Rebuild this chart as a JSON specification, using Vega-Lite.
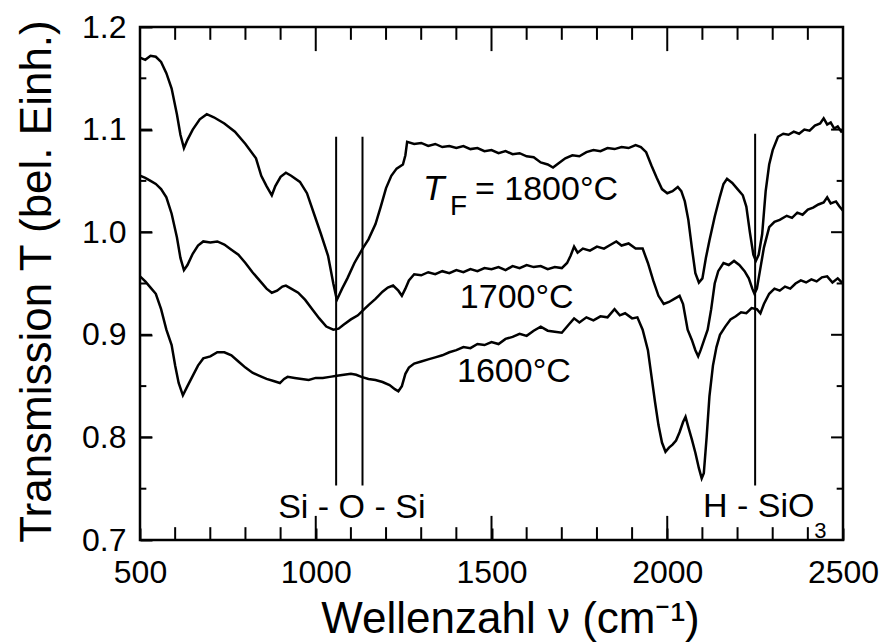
{
  "$schema": "https://vega.github.io/schema/vega-lite/v6.json",
  "width": 703,
  "height": 513,
  "autosize": {"type": "none"},
  "padding": {"left": 140, "top": 27, "right": 41, "bottom": 104},
  "background": "white",
  "config": {
    "font": "Liberation Sans",
    "view": {"stroke": "black", "strokeWidth": 2.5},
    "axis": {"grid": false, "domain": false, "labelColor": "black", "titleColor": "black", "tickColor": "black", "tickWidth": 2, "labelFlush": false, "labelOverlap": false, "labelBound": false, "titleFontWeight": "normal"}
  },
  "datasets": {
    "spectra": [
      {"s":"1800","x":500,"y":1.170},{"s":"1800","x":515,"y":1.168},{"s":"1800","x":530,"y":1.172},{"s":"1800","x":545,"y":1.171},{"s":"1800","x":560,"y":1.166},{"s":"1800","x":575,"y":1.155},{"s":"1800","x":590,"y":1.140},{"s":"1800","x":605,"y":1.115},{"s":"1800","x":615,"y":1.095},{"s":"1800","x":625,"y":1.082},{"s":"1800","x":635,"y":1.090},{"s":"1800","x":650,"y":1.100},{"s":"1800","x":670,"y":1.110},{"s":"1800","x":690,"y":1.115},{"s":"1800","x":710,"y":1.112},{"s":"1800","x":740,"y":1.106},{"s":"1800","x":770,"y":1.098},{"s":"1800","x":800,"y":1.086},{"s":"1800","x":830,"y":1.072},{"s":"1800","x":845,"y":1.055},{"s":"1800","x":860,"y":1.045},{"s":"1800","x":875,"y":1.036},{"s":"1800","x":885,"y":1.045},{"s":"1800","x":900,"y":1.054},{"s":"1800","x":915,"y":1.058},{"s":"1800","x":930,"y":1.055},{"s":"1800","x":955,"y":1.049},{"s":"1800","x":975,"y":1.038},{"s":"1800","x":995,"y":1.018},{"s":"1800","x":1015,"y":0.998},{"s":"1800","x":1035,"y":0.977},{"s":"1800","x":1050,"y":0.950},{"s":"1800","x":1060,"y":0.934},{"s":"1800","x":1075,"y":0.945},{"s":"1800","x":1090,"y":0.955},{"s":"1800","x":1110,"y":0.970},{"s":"1800","x":1135,"y":0.985},{"s":"1800","x":1150,"y":0.993},{"s":"1800","x":1170,"y":1.008},{"s":"1800","x":1185,"y":1.025},{"s":"1800","x":1200,"y":1.043},{"s":"1800","x":1215,"y":1.055},{"s":"1800","x":1230,"y":1.062},{"s":"1800","x":1248,"y":1.066},{"s":"1800","x":1255,"y":1.075},{"s":"1800","x":1260,"y":1.088},{"s":"1800","x":1280,"y":1.086},{"s":"1800","x":1300,"y":1.087},{"s":"1800","x":1320,"y":1.084},{"s":"1800","x":1340,"y":1.086},{"s":"1800","x":1360,"y":1.083},{"s":"1800","x":1380,"y":1.084},{"s":"1800","x":1400,"y":1.082},{"s":"1800","x":1420,"y":1.084},{"s":"1800","x":1440,"y":1.081},{"s":"1800","x":1460,"y":1.082},{"s":"1800","x":1480,"y":1.079},{"s":"1800","x":1500,"y":1.080},{"s":"1800","x":1520,"y":1.077},{"s":"1800","x":1540,"y":1.079},{"s":"1800","x":1560,"y":1.076},{"s":"1800","x":1580,"y":1.077},{"s":"1800","x":1600,"y":1.074},{"s":"1800","x":1620,"y":1.073},{"s":"1800","x":1640,"y":1.068},{"s":"1800","x":1660,"y":1.066},{"s":"1800","x":1675,"y":1.063},{"s":"1800","x":1690,"y":1.067},{"s":"1800","x":1710,"y":1.072},{"s":"1800","x":1730,"y":1.075},{"s":"1800","x":1750,"y":1.074},{"s":"1800","x":1770,"y":1.078},{"s":"1800","x":1790,"y":1.080},{"s":"1800","x":1810,"y":1.079},{"s":"1800","x":1830,"y":1.082},{"s":"1800","x":1850,"y":1.081},{"s":"1800","x":1870,"y":1.083},{"s":"1800","x":1890,"y":1.082},{"s":"1800","x":1910,"y":1.085},{"s":"1800","x":1925,"y":1.083},{"s":"1800","x":1940,"y":1.078},{"s":"1800","x":1955,"y":1.065},{"s":"1800","x":1970,"y":1.053},{"s":"1800","x":1985,"y":1.042},{"s":"1800","x":2000,"y":1.038},{"s":"1800","x":2015,"y":1.040},{"s":"1800","x":2030,"y":1.044},{"s":"1800","x":2040,"y":1.040},{"s":"1800","x":2050,"y":1.030},{"s":"1800","x":2060,"y":1.012},{"s":"1800","x":2070,"y":0.985},{"s":"1800","x":2080,"y":0.960},{"s":"1800","x":2090,"y":0.951},{"s":"1800","x":2100,"y":0.955},{"s":"1800","x":2110,"y":0.975},{"s":"1800","x":2120,"y":0.992},{"s":"1800","x":2135,"y":1.015},{"s":"1800","x":2150,"y":1.035},{"s":"1800","x":2160,"y":1.047},{"s":"1800","x":2170,"y":1.052},{"s":"1800","x":2185,"y":1.048},{"s":"1800","x":2200,"y":1.042},{"s":"1800","x":2215,"y":1.036},{"s":"1800","x":2225,"y":1.025},{"s":"1800","x":2235,"y":1.000},{"s":"1800","x":2245,"y":0.978},{"s":"1800","x":2252,"y":0.972},{"s":"1800","x":2260,"y":0.978},{"s":"1800","x":2270,"y":0.998},{"s":"1800","x":2280,"y":1.040},{"s":"1800","x":2290,"y":1.066},{"s":"1800","x":2300,"y":1.080},{"s":"1800","x":2315,"y":1.093},{"s":"1800","x":2330,"y":1.096},{"s":"1800","x":2345,"y":1.095},{"s":"1800","x":2360,"y":1.098},{"s":"1800","x":2375,"y":1.096},{"s":"1800","x":2390,"y":1.100},{"s":"1800","x":2405,"y":1.099},{"s":"1800","x":2420,"y":1.104},{"s":"1800","x":2435,"y":1.106},{"s":"1800","x":2445,"y":1.111},{"s":"1800","x":2455,"y":1.105},{"s":"1800","x":2465,"y":1.107},{"s":"1800","x":2475,"y":1.101},{"s":"1800","x":2485,"y":1.103},{"s":"1800","x":2495,"y":1.098},{"s":"1800","x":2500,"y":1.099},

      {"s":"1700","x":500,"y":1.055},{"s":"1700","x":515,"y":1.053},{"s":"1700","x":530,"y":1.050},{"s":"1700","x":545,"y":1.047},{"s":"1700","x":560,"y":1.042},{"s":"1700","x":575,"y":1.034},{"s":"1700","x":590,"y":1.018},{"s":"1700","x":605,"y":0.995},{"s":"1700","x":615,"y":0.975},{"s":"1700","x":625,"y":0.963},{"s":"1700","x":635,"y":0.968},{"s":"1700","x":650,"y":0.979},{"s":"1700","x":665,"y":0.987},{"s":"1700","x":680,"y":0.991},{"s":"1700","x":700,"y":0.990},{"s":"1700","x":720,"y":0.991},{"s":"1700","x":740,"y":0.988},{"s":"1700","x":760,"y":0.983},{"s":"1700","x":780,"y":0.978},{"s":"1700","x":800,"y":0.970},{"s":"1700","x":820,"y":0.961},{"s":"1700","x":840,"y":0.953},{"s":"1700","x":860,"y":0.945},{"s":"1700","x":875,"y":0.941},{"s":"1700","x":890,"y":0.943},{"s":"1700","x":905,"y":0.947},{"s":"1700","x":915,"y":0.948},{"s":"1700","x":930,"y":0.945},{"s":"1700","x":950,"y":0.941},{"s":"1700","x":970,"y":0.934},{"s":"1700","x":990,"y":0.925},{"s":"1700","x":1010,"y":0.916},{"s":"1700","x":1030,"y":0.908},{"s":"1700","x":1050,"y":0.905},{"s":"1700","x":1065,"y":0.906},{"s":"1700","x":1080,"y":0.910},{"s":"1700","x":1100,"y":0.915},{"s":"1700","x":1120,"y":0.919},{"s":"1700","x":1135,"y":0.924},{"s":"1700","x":1150,"y":0.929},{"s":"1700","x":1170,"y":0.935},{"s":"1700","x":1190,"y":0.942},{"s":"1700","x":1205,"y":0.946},{"s":"1700","x":1220,"y":0.948},{"s":"1700","x":1235,"y":0.943},{"s":"1700","x":1245,"y":0.938},{"s":"1700","x":1255,"y":0.945},{"s":"1700","x":1265,"y":0.953},{"s":"1700","x":1280,"y":0.959},{"s":"1700","x":1300,"y":0.958},{"s":"1700","x":1320,"y":0.961},{"s":"1700","x":1340,"y":0.959},{"s":"1700","x":1360,"y":0.962},{"s":"1700","x":1380,"y":0.960},{"s":"1700","x":1400,"y":0.963},{"s":"1700","x":1420,"y":0.961},{"s":"1700","x":1440,"y":0.964},{"s":"1700","x":1460,"y":0.962},{"s":"1700","x":1480,"y":0.965},{"s":"1700","x":1500,"y":0.964},{"s":"1700","x":1520,"y":0.966},{"s":"1700","x":1540,"y":0.963},{"s":"1700","x":1560,"y":0.967},{"s":"1700","x":1580,"y":0.965},{"s":"1700","x":1600,"y":0.968},{"s":"1700","x":1620,"y":0.966},{"s":"1700","x":1640,"y":0.967},{"s":"1700","x":1660,"y":0.964},{"s":"1700","x":1680,"y":0.966},{"s":"1700","x":1700,"y":0.965},{"s":"1700","x":1715,"y":0.970},{"s":"1700","x":1725,"y":0.977},{"s":"1700","x":1735,"y":0.986},{"s":"1700","x":1745,"y":0.980},{"s":"1700","x":1760,"y":0.984},{"s":"1700","x":1780,"y":0.982},{"s":"1700","x":1800,"y":0.986},{"s":"1700","x":1820,"y":0.984},{"s":"1700","x":1840,"y":0.988},{"s":"1700","x":1855,"y":0.991},{"s":"1700","x":1870,"y":0.987},{"s":"1700","x":1890,"y":0.989},{"s":"1700","x":1910,"y":0.984},{"s":"1700","x":1930,"y":0.984},{"s":"1700","x":1945,"y":0.970},{"s":"1700","x":1960,"y":0.953},{"s":"1700","x":1975,"y":0.938},{"s":"1700","x":1990,"y":0.930},{"s":"1700","x":2005,"y":0.932},{"s":"1700","x":2020,"y":0.935},{"s":"1700","x":2035,"y":0.938},{"s":"1700","x":2045,"y":0.930},{"s":"1700","x":2058,"y":0.905},{"s":"1700","x":2070,"y":0.895},{"s":"1700","x":2080,"y":0.885},{"s":"1700","x":2088,"y":0.879},{"s":"1700","x":2095,"y":0.885},{"s":"1700","x":2105,"y":0.895},{"s":"1700","x":2115,"y":0.905},{"s":"1700","x":2125,"y":0.925},{"s":"1700","x":2135,"y":0.950},{"s":"1700","x":2145,"y":0.962},{"s":"1700","x":2160,"y":0.970},{"s":"1700","x":2175,"y":0.968},{"s":"1700","x":2190,"y":0.972},{"s":"1700","x":2205,"y":0.968},{"s":"1700","x":2220,"y":0.962},{"s":"1700","x":2232,"y":0.955},{"s":"1700","x":2242,"y":0.945},{"s":"1700","x":2248,"y":0.940},{"s":"1700","x":2255,"y":0.945},{"s":"1700","x":2265,"y":0.965},{"s":"1700","x":2275,"y":0.985},{"s":"1700","x":2290,"y":1.005},{"s":"1700","x":2305,"y":1.010},{"s":"1700","x":2320,"y":1.012},{"s":"1700","x":2340,"y":1.016},{"s":"1700","x":2355,"y":1.014},{"s":"1700","x":2370,"y":1.019},{"s":"1700","x":2385,"y":1.017},{"s":"1700","x":2400,"y":1.022},{"s":"1700","x":2415,"y":1.024},{"s":"1700","x":2430,"y":1.027},{"s":"1700","x":2445,"y":1.029},{"s":"1700","x":2455,"y":1.034},{"s":"1700","x":2465,"y":1.028},{"s":"1700","x":2480,"y":1.030},{"s":"1700","x":2490,"y":1.025},{"s":"1700","x":2500,"y":1.021},

      {"s":"1600","x":500,"y":0.957},{"s":"1600","x":515,"y":0.952},{"s":"1600","x":530,"y":0.946},{"s":"1600","x":545,"y":0.940},{"s":"1600","x":560,"y":0.925},{"s":"1600","x":575,"y":0.905},{"s":"1600","x":590,"y":0.890},{"s":"1600","x":600,"y":0.870},{"s":"1600","x":610,"y":0.853},{"s":"1600","x":622,"y":0.841},{"s":"1600","x":635,"y":0.850},{"s":"1600","x":650,"y":0.860},{"s":"1600","x":665,"y":0.870},{"s":"1600","x":680,"y":0.877},{"s":"1600","x":700,"y":0.879},{"s":"1600","x":720,"y":0.883},{"s":"1600","x":740,"y":0.883},{"s":"1600","x":760,"y":0.880},{"s":"1600","x":780,"y":0.874},{"s":"1600","x":800,"y":0.868},{"s":"1600","x":820,"y":0.863},{"s":"1600","x":840,"y":0.860},{"s":"1600","x":860,"y":0.857},{"s":"1600","x":880,"y":0.855},{"s":"1600","x":898,"y":0.853},{"s":"1600","x":910,"y":0.857},{"s":"1600","x":920,"y":0.859},{"s":"1600","x":940,"y":0.858},{"s":"1600","x":960,"y":0.857},{"s":"1600","x":980,"y":0.856},{"s":"1600","x":1000,"y":0.858},{"s":"1600","x":1020,"y":0.858},{"s":"1600","x":1040,"y":0.859},{"s":"1600","x":1060,"y":0.860},{"s":"1600","x":1080,"y":0.861},{"s":"1600","x":1100,"y":0.862},{"s":"1600","x":1115,"y":0.861},{"s":"1600","x":1130,"y":0.859},{"s":"1600","x":1150,"y":0.857},{"s":"1600","x":1170,"y":0.856},{"s":"1600","x":1190,"y":0.854},{"s":"1600","x":1210,"y":0.851},{"s":"1600","x":1225,"y":0.847},{"s":"1600","x":1235,"y":0.845},{"s":"1600","x":1245,"y":0.850},{"s":"1600","x":1255,"y":0.862},{"s":"1600","x":1265,"y":0.868},{"s":"1600","x":1280,"y":0.872},{"s":"1600","x":1300,"y":0.874},{"s":"1600","x":1320,"y":0.876},{"s":"1600","x":1340,"y":0.878},{"s":"1600","x":1360,"y":0.880},{"s":"1600","x":1380,"y":0.883},{"s":"1600","x":1400,"y":0.885},{"s":"1600","x":1420,"y":0.888},{"s":"1600","x":1440,"y":0.887},{"s":"1600","x":1460,"y":0.891},{"s":"1600","x":1480,"y":0.890},{"s":"1600","x":1500,"y":0.893},{"s":"1600","x":1520,"y":0.891},{"s":"1600","x":1540,"y":0.896},{"s":"1600","x":1560,"y":0.898},{"s":"1600","x":1580,"y":0.901},{"s":"1600","x":1600,"y":0.899},{"s":"1600","x":1620,"y":0.904},{"s":"1600","x":1640,"y":0.908},{"s":"1600","x":1660,"y":0.904},{"s":"1600","x":1680,"y":0.903},{"s":"1600","x":1700,"y":0.902},{"s":"1600","x":1720,"y":0.910},{"s":"1600","x":1735,"y":0.916},{"s":"1600","x":1750,"y":0.912},{"s":"1600","x":1770,"y":0.917},{"s":"1600","x":1790,"y":0.914},{"s":"1600","x":1810,"y":0.918},{"s":"1600","x":1830,"y":0.917},{"s":"1600","x":1850,"y":0.925},{"s":"1600","x":1865,"y":0.919},{"s":"1600","x":1880,"y":0.921},{"s":"1600","x":1900,"y":0.916},{"s":"1600","x":1915,"y":0.917},{"s":"1600","x":1930,"y":0.905},{"s":"1600","x":1945,"y":0.885},{"s":"1600","x":1955,"y":0.860},{"s":"1600","x":1965,"y":0.835},{"s":"1600","x":1975,"y":0.812},{"s":"1600","x":1985,"y":0.795},{"s":"1600","x":1995,"y":0.786},{"s":"1600","x":2005,"y":0.790},{"s":"1600","x":2015,"y":0.793},{"s":"1600","x":2025,"y":0.797},{"s":"1600","x":2035,"y":0.805},{"s":"1600","x":2045,"y":0.815},{"s":"1600","x":2052,"y":0.820},{"s":"1600","x":2060,"y":0.810},{"s":"1600","x":2070,"y":0.798},{"s":"1600","x":2080,"y":0.785},{"s":"1600","x":2090,"y":0.770},{"s":"1600","x":2098,"y":0.760},{"s":"1600","x":2104,"y":0.765},{"s":"1600","x":2112,"y":0.800},{"s":"1600","x":2120,"y":0.840},{"s":"1600","x":2130,"y":0.870},{"s":"1600","x":2140,"y":0.888},{"s":"1600","x":2150,"y":0.900},{"s":"1600","x":2165,"y":0.908},{"s":"1600","x":2180,"y":0.915},{"s":"1600","x":2195,"y":0.918},{"s":"1600","x":2210,"y":0.922},{"s":"1600","x":2225,"y":0.921},{"s":"1600","x":2240,"y":0.926},{"s":"1600","x":2255,"y":0.925},{"s":"1600","x":2265,"y":0.921},{"s":"1600","x":2275,"y":0.930},{"s":"1600","x":2290,"y":0.940},{"s":"1600","x":2305,"y":0.945},{"s":"1600","x":2320,"y":0.943},{"s":"1600","x":2335,"y":0.947},{"s":"1600","x":2350,"y":0.945},{"s":"1600","x":2365,"y":0.950},{"s":"1600","x":2380,"y":0.953},{"s":"1600","x":2395,"y":0.951},{"s":"1600","x":2410,"y":0.954},{"s":"1600","x":2425,"y":0.952},{"s":"1600","x":2440,"y":0.956},{"s":"1600","x":2455,"y":0.957},{"s":"1600","x":2470,"y":0.951},{"s":"1600","x":2485,"y":0.955},{"s":"1600","x":2500,"y":0.950}
    ],
    "markers": [
      {"x": 1058, "y1": 0.753, "y2": 1.093},
      {"x": 1133, "y1": 0.753, "y2": 1.093},
      {"x": 2250, "y1": 0.753, "y2": 1.096}
    ],
    "xMajor": [{"v": 500}, {"v": 1000}, {"v": 1500}, {"v": 2000}, {"v": 2500}],
    "xMinor": [{"v": 600}, {"v": 700}, {"v": 800}, {"v": 900}, {"v": 1100}, {"v": 1200}, {"v": 1300}, {"v": 1400}, {"v": 1600}, {"v": 1700}, {"v": 1800}, {"v": 1900}, {"v": 2100}, {"v": 2200}, {"v": 2300}, {"v": 2400}],
    "yMajor": [{"v": 0.7}, {"v": 0.8}, {"v": 0.9}, {"v": 1.0}, {"v": 1.1}, {"v": 1.2}],
    "yMinor": [{"v": 0.75}, {"v": 0.85}, {"v": 0.95}, {"v": 1.05}, {"v": 1.15}],
    "mainText": [
      {"x": 1453, "y": 1.0314, "t": "= 1800°C"},
      {"x": 1410, "y": 0.9261, "t": "1700°C"},
      {"x": 1402, "y": 0.854, "t": "1600°C"},
      {"x": 893, "y": 0.7214, "t": "Si - O - Si"},
      {"x": 2102, "y": 0.7224, "t": "H - SiO"}
    ],
    "italicText": [{"x": 1305, "y": 1.0314, "t": "T"}],
    "subF": [{"x": 1382, "y": 1.0168, "t": "F"}],
    "sub3": [{"x": 2418, "y": 0.7015, "t": "3"}]
  },
  "layer": [
    {
      "data": {"name": "spectra"},
      "mark": {"type": "line", "color": "black", "strokeWidth": 2.5, "clip": true},
      "encoding": {
        "x": {"field": "x", "type": "quantitative", "scale": {"domain": [500, 2500], "nice": false, "zero": false},
          "axis": {"orient": "bottom", "values": [500, 1000, 1500, 2000, 2500], "offset": -12, "tickSize": 12,
            "format": "d", "labelFontSize": 32, "labelPadding": 17,
            "title": "Wellenzahl ν (cm⁻¹)", "titleFontSize": 44, "titleX": 370, "titleY": 104, "titleBaseline": "alphabetic", "titleAlign": "center"}},
        "y": {"field": "y", "type": "quantitative", "scale": {"domain": [0.7, 1.2], "nice": false, "zero": false},
          "axis": {"orient": "left", "values": [0.7, 0.8, 0.9, 1.0, 1.1, 1.2], "offset": -12, "tickSize": 12, "format": ".1f",
            "labelFontSize": 32, "labelPadding": 14,
            "title": "Transmission T (bel. Einh.)", "titleFontSize": 44, "titleAngle": 270, "titleX": -102, "titleY": 254, "titleBaseline": "alphabetic", "titleAlign": "center"}},
        "detail": {"field": "s", "type": "nominal"}
      }
    },
    {
      "data": {"name": "markers"},
      "mark": {"type": "rule", "color": "black", "strokeWidth": 2},
      "encoding": {
        "x": {"field": "x", "type": "quantitative", "axis": null},
        "y": {"field": "y1", "type": "quantitative", "axis": null},
        "y2": {"field": "y2"}
      }
    },
    {
      "data": {"name": "xMajor"},
      "mark": {"type": "rule", "color": "black", "strokeWidth": 2},
      "encoding": {"x": {"field": "v", "type": "quantitative", "axis": null}, "y": {"datum": 0.7, "type": "quantitative", "axis": null}, "y2": {"datum": 0.7235}}
    },
    {
      "data": {"name": "xMajor"},
      "mark": {"type": "rule", "color": "black", "strokeWidth": 2},
      "encoding": {"x": {"field": "v", "type": "quantitative", "axis": null}, "y": {"datum": 1.2, "type": "quantitative", "axis": null}, "y2": {"datum": 1.1765}}
    },
    {
      "data": {"name": "xMinor"},
      "mark": {"type": "rule", "color": "black", "strokeWidth": 2},
      "encoding": {"x": {"field": "v", "type": "quantitative", "axis": null}, "y": {"datum": 0.7, "type": "quantitative", "axis": null}, "y2": {"datum": 0.7125}}
    },
    {
      "data": {"name": "xMinor"},
      "mark": {"type": "rule", "color": "black", "strokeWidth": 2},
      "encoding": {"x": {"field": "v", "type": "quantitative", "axis": null}, "y": {"datum": 1.2, "type": "quantitative", "axis": null}, "y2": {"datum": 1.1875}}
    },
    {
      "data": {"name": "yMajor"},
      "mark": {"type": "rule", "color": "black", "strokeWidth": 2},
      "encoding": {"y": {"field": "v", "type": "quantitative", "axis": null}, "x": {"datum": 500, "type": "quantitative", "axis": null}, "x2": {"datum": 534}}
    },
    {
      "data": {"name": "yMajor"},
      "mark": {"type": "rule", "color": "black", "strokeWidth": 2},
      "encoding": {"y": {"field": "v", "type": "quantitative", "axis": null}, "x": {"datum": 2500, "type": "quantitative", "axis": null}, "x2": {"datum": 2466}}
    },
    {
      "data": {"name": "yMinor"},
      "mark": {"type": "rule", "color": "black", "strokeWidth": 2},
      "encoding": {"y": {"field": "v", "type": "quantitative", "axis": null}, "x": {"datum": 500, "type": "quantitative", "axis": null}, "x2": {"datum": 518}}
    },
    {
      "data": {"name": "yMinor"},
      "mark": {"type": "rule", "color": "black", "strokeWidth": 2},
      "encoding": {"y": {"field": "v", "type": "quantitative", "axis": null}, "x": {"datum": 2500, "type": "quantitative", "axis": null}, "x2": {"datum": 2482}}
    },
    {
      "data": {"name": "mainText"},
      "mark": {"type": "text", "fontSize": 34, "align": "left", "baseline": "alphabetic", "color": "black"},
      "encoding": {
        "x": {"field": "x", "type": "quantitative", "axis": null},
        "y": {"field": "y", "type": "quantitative", "axis": null},
        "text": {"field": "t"}
      }
    },
    {
      "data": {"name": "italicText"},
      "mark": {"type": "text", "fontSize": 35, "fontStyle": "italic", "align": "left", "baseline": "alphabetic", "color": "black"},
      "encoding": {
        "x": {"field": "x", "type": "quantitative", "axis": null},
        "y": {"field": "y", "type": "quantitative", "axis": null},
        "text": {"field": "t"}
      }
    },
    {
      "data": {"name": "subF"},
      "mark": {"type": "text", "fontSize": 28, "align": "left", "baseline": "alphabetic", "color": "black"},
      "encoding": {
        "x": {"field": "x", "type": "quantitative", "axis": null},
        "y": {"field": "y", "type": "quantitative", "axis": null},
        "text": {"field": "t"}
      }
    },
    {
      "data": {"name": "sub3"},
      "mark": {"type": "text", "fontSize": 22, "align": "left", "baseline": "alphabetic", "color": "black"},
      "encoding": {
        "x": {"field": "x", "type": "quantitative", "axis": null},
        "y": {"field": "y", "type": "quantitative", "axis": null},
        "text": {"field": "t"}
      }
    }
  ],
  "resolve": {"axis": {"x": "independent", "y": "independent"}}
}
